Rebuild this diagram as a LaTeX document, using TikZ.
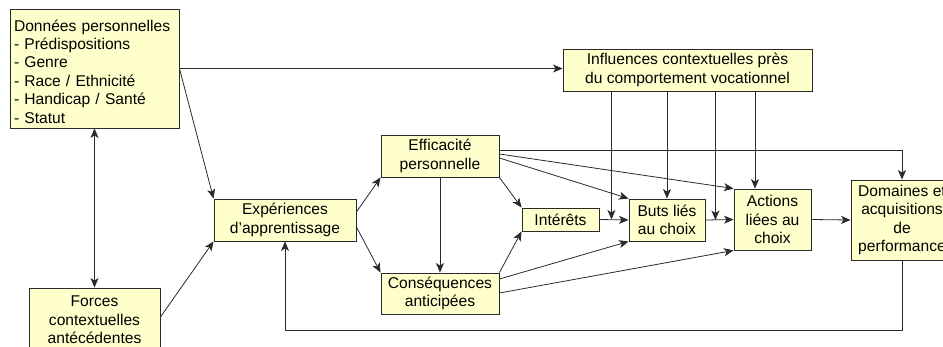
\documentclass[tikz,border=0pt]{standalone}
\usepackage{fontspec}
\setmainfont{Liberation Sans}
\usetikzlibrary{arrows.meta,calc}
\definecolor{boxfill}{HTML}{FFFFCC}
\definecolor{edge}{HTML}{2A2A2A}
\tikzset{
  box/.style={draw=edge, fill=boxfill, line width=0.9pt, inner sep=0pt,
    align=center, font=\fontsize{15.6}{18.4}\selectfont},
  link/.style={draw=edge, line width=0.8pt,
    -{Stealth[length=9.5pt,width=8pt,inset=2.5pt]}},
  biglink/.style={link, {Stealth[length=9.5pt,width=8pt,inset=2.5pt]}-{Stealth[length=9.5pt,width=8pt,inset=2.5pt]}},
  plain/.style={draw=edge, line width=0.8pt}
}
\begin{document}
\begin{tikzpicture}[x=1pt,y=-1pt]
\useasboundingbox (0,0) rectangle (943,346);

% boxes
\node[box, minimum width=169pt, minimum height=119pt, text width=161pt, align=left]
  (don) at (94.5,68.5) {\rule{0pt}{17.5pt}Données personnelles\\- Prédispositions\\- Genre\\- Race / Ethnicité\\- Handicap / Santé\\- Statut};
\node[box, minimum width=131pt, minimum height=64pt] (forces) at (94.5,320)
  {Forces\\contextuelles\\antécédentes};
\node[box, minimum width=142pt, minimum height=42pt] (exp) at (285,220)
  {Expériences\\d’apprentissage};
\node[box, minimum width=118pt, minimum height=42pt] (eff) at (440,156)
  {Efficacité\\personnelle};
\node[box, minimum width=118pt, minimum height=41pt] (cons) at (440,293.5)
  {Conséquences\\anticipées};
\node[box, minimum width=77pt, minimum height=23pt] (int) at (560.5,219.5)
  {Intérêts};
\node[box, minimum width=249pt, minimum height=42pt] (infl) at (687.5,70)
  {Influences contextuelles près\\du comportement vocationnel};
\node[box, minimum width=76pt, minimum height=42pt] (buts) at (667,220)
  {Buts liés\\au choix};
\node[box, minimum width=77pt, minimum height=61pt] (act) at (772.5,219.5)
  {Actions\\liées au\\choix};
\node[box, minimum width=102pt, minimum height=80pt] (dom) at (902,220)
  {Domaines et\\acquisitions\\de\\performance};

% links from the personal data
\draw[link] (don.east) -- (don.east -| infl.west);
\draw[link] (don.east) -- (exp.north west);
\draw[biglink] (don) -- (forces);
\draw[link] ($(forces.east)+(0,-3)$) -- (exp.south west);

% learning experiences
\draw[link] ($(exp.east)+(0,-8)$) -- (eff.south west);
\draw[link] ($(exp.east)+(0,7)$) -- (cons.north west);
\draw[link] (eff.south) -- (cons.north);
\draw[link] (eff.south east) -- (int.north west);
\draw[link] (cons.north east) -- (int.south west);

% main chain
\draw[link] (int.east) -- (buts.west);
\draw[link] (buts.east) -- (act.west);
\draw[link] (act.east) -- (dom.west);

% self-efficacy and outcome expectations
\draw[link] ($(eff.east)+(0,-6)$) -| (dom.north);
\draw[link] ($(eff.east)+(0,-2)$) -- (act.north west);
\draw[link] ($(eff.east)+(0,2)$) -- (buts.north west);
\draw[link] ($(cons.east)+(0,-14.5)$) -- (buts.south west);
\draw[link] ($(cons.east)+(0,-0.5)$) -- (act.south west);

% proximal contextual influences
\coordinate (m1) at ($(int.east)+(12,0)$);
\coordinate (m2) at ($(buts.east)+(10,0)$);
\coordinate (m3) at ($(act.north)+(-17.5,0)$);
\draw[link] (m1 |- infl.south) -- (m1);
\draw[link] (buts.north |- infl.south) -- (buts.north);
\draw[link] (m2 |- infl.south) -- (m2);
\draw[link] (m3 |- infl.south) -- (m3);

% feedback loop
\coordinate (fb) at ($(dom.south)+(0,70)$);
\draw[link] (dom.south) -- (fb) -| (exp.south);
\end{tikzpicture}
\end{document}
